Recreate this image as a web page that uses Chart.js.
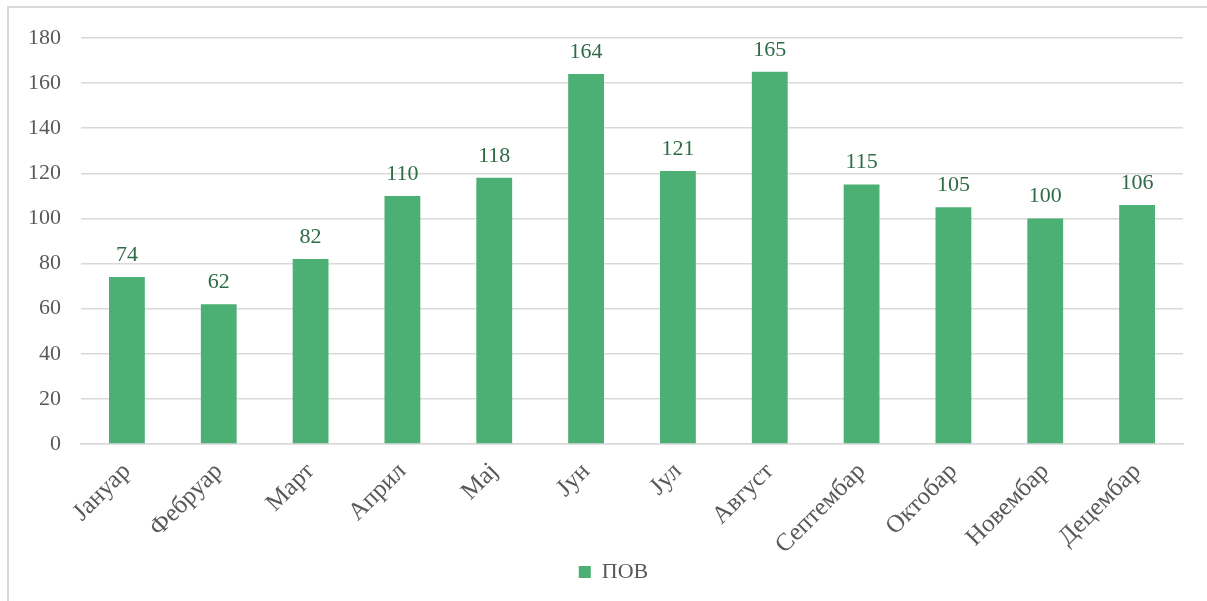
<!DOCTYPE html>
<html>
<head>
<meta charset="utf-8">
<script src="https://cdn.jsdelivr.net/npm/chart.js@4/dist/chart.umd.min.js"></script>
<style>
  html, body { margin: 0; padding: 0; background: #fff; }
  #wrap { position: absolute; left: 0; top: 0; width: 1207px; height: 601px; }
</style>
</head>
<body>
<div id="wrap"><canvas id="c" width="1207" height="601"></canvas></div>
<script>
const categories = ['Јануар', 'Фебруар', 'Март', 'Април', 'Мај', 'Јун', 'Јул', 'Август', 'Септембар', 'Октобар', 'Новембар', 'Децембар'];
const seriesName = 'ПОВ';
const values = [74, 62, 82, 110, 118, 164, 121, 165, 115, 105, 100, 106];
const yTicks = { min: 0, max: 180, step: 20 };

const FONT = "'Liberation Serif', 'Times New Roman', serif";
const BAR = '#4CAF73';
const LABEL_GREEN = '#2F6B47';
const GREY = '#595959';

const frame = {
  id: 'frame',
  beforeDraw(chart) {
    const ctx = chart.ctx;
    ctx.save();
    ctx.fillStyle = '#fff';
    ctx.fillRect(0, 0, chart.width, chart.height);
    ctx.strokeStyle = '#D9D9D9';
    ctx.lineWidth = 2;
    ctx.beginPath();
    ctx.moveTo(8, chart.height);
    ctx.lineTo(8, 7);
    ctx.lineTo(chart.width, 7);
    ctx.stroke();
    ctx.restore();
  }
};

const legendShift = {
  id: 'legendShift',
  afterLayout(chart) {
    if (chart.legend) {
      chart.legend.left += 18;
      chart.legend.right += 18;
    }
  }
};

const dataLabels = {
  id: 'dataLabels',
  afterDatasetsDraw(chart) {
    const ctx = chart.ctx;
    const meta = chart.getDatasetMeta(0);
    ctx.save();
    ctx.font = '22px ' + FONT;
    ctx.fillStyle = LABEL_GREEN;
    ctx.textAlign = 'center';
    ctx.textBaseline = 'bottom';
    meta.data.forEach((bar, i) => {
      ctx.fillText(String(values[i]), bar.x, bar.y - 11);
    });
    ctx.restore();
  }
};

new Chart(document.getElementById('c'), {
  type: 'bar',
  data: {
    labels: categories,
    datasets: [{
      label: seriesName,
      data: values,
      backgroundColor: BAR,
      borderWidth: 0,
      categoryPercentage: 1.0,
      barPercentage: 0.39
    }]
  },
  options: {
    responsive: false,
    animation: false,
    layout: { padding: { left: 8, right: 24, top: 38, bottom: 8 } },
    plugins: {
      tooltip: { enabled: false },
      legend: {
        position: 'bottom',
        labels: {
          font: { family: FONT, size: 22 },
          color: GREY,
          boxWidth: 12,
          boxHeight: 12,
          padding: 10
        }
      }
    },
    scales: {
      x: {
        afterFit(scale) { scale.height = 107; scale.paddingLeft = 0; scale.paddingRight = 0; },
        grid: { display: false, drawTicks: false },
        border: { display: true, color: '#D9D9D9', width: 1.5 },
        ticks: {
          font: { family: FONT, size: 25 },
          color: GREY,
          maxRotation: 45,
          minRotation: 45,
          padding: 13
        }
      },
      y: {
        min: yTicks.min,
        max: yTicks.max,
        afterFit(scale) { scale.width = 73; scale.paddingTop = 0; scale.paddingBottom = 0; },
        grid: { color: '#D9D9D9', lineWidth: 1.5, drawTicks: false },
        border: { display: false },
        ticks: {
          stepSize: yTicks.step,
          font: { family: FONT, size: 22 },
          color: GREY,
          padding: 20
        }
      }
    }
  },
  plugins: [frame, legendShift, dataLabels]
});
</script>
</body>
</html>
